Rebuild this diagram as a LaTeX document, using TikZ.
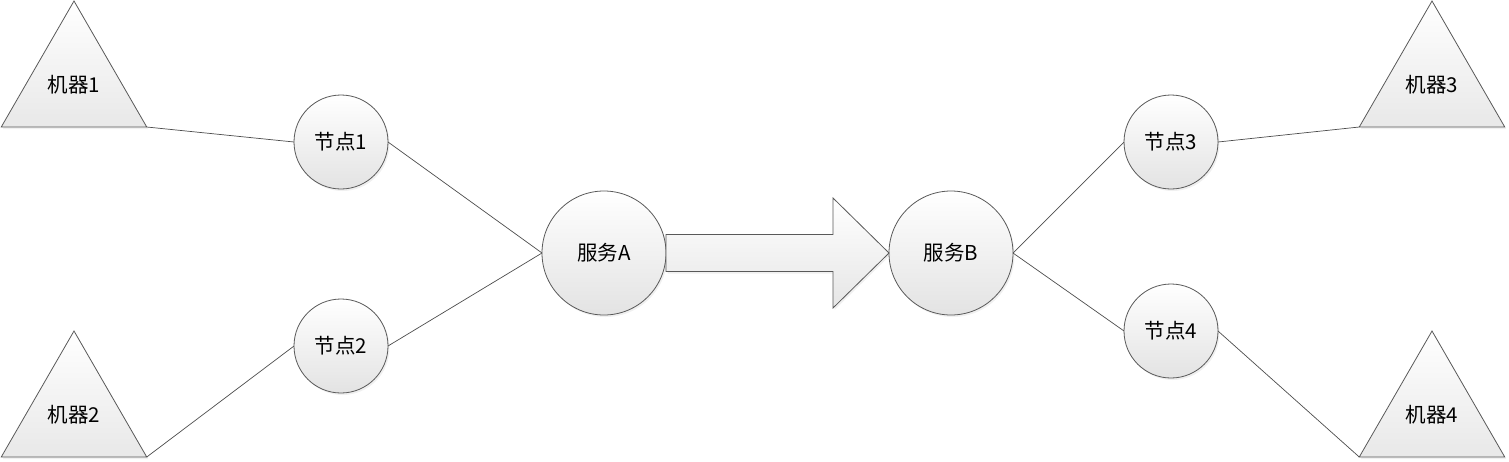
\documentclass[tikz,border=0pt]{standalone}
\usepackage{fontspec}
\setmainfont{Carlito}
\newfontfamily\cjk{Noto Sans CJK SC}
\usepackage{tikz}
\usetikzlibrary{shapes.geometric,calc,shadows}

\tikzset{
  linecol/.style={draw=black!65, line width=0.8pt},
  shadowed/.style={drop shadow={shadow xshift=1.5pt, shadow yshift=-2pt, opacity=0.12}},
  machine/.style={regular polygon, regular polygon sides=3, minimum size=168pt,
                  inner sep=0pt, outer sep=0pt, linecol, shadowed,
                  top color=white, bottom color=black!9},
  joint/.style={circle, minimum size=94pt, inner sep=0pt, outer sep=0pt,
                linecol, shadowed, top color=white, bottom color=black!11},
  service/.style={joint, minimum size=124pt},
  link/.style={draw=black!70, line width=0.7pt},
  bigarrow/.style={linecol, shadowed, top color=white, bottom color=black!10}
}

\begin{document}
\begin{tikzpicture}[x=1pt, y=-1pt, font=\fontsize{20.5}{24}\selectfont]
      \useasboundingbox (0, 0) rectangle (1509, 461);
      % machines
      \node (m1) [machine] at (74, 85)   {\cjk{机器}1};
      \node (m2) [machine] at (74, 415)  {\cjk{机器}2};
      \node (m3) [machine] at (1432, 85)  {\cjk{机器}3};
      \node (m4) [machine] at (1432, 415) {\cjk{机器}4};
      % nodes
      \node (n1) [joint] at (341, 142)  {\cjk{节点}1};
      \node (n2) [joint] at (341, 346)  {\cjk{节点}2};
      \node (n3) [joint] at (1171, 142) {\cjk{节点}3};
      \node (n4) [joint] at (1171, 331) {\cjk{节点}4};
      % services
      \node (sa) [service] at (604, 253) {\cjk{服务}A};
      \node (sb) [service] at (951, 253) {\cjk{服务}B};

      \draw[link] (m1.corner 3) -- (n1.west)
                  (m2.corner 3) -- (n2.west)
                  (n1.east) -- (sa.west)
                  (n2.east) -- (sa.west)
                  (sb.east) -- (n3.west)
                  (sb.east) -- (n4.west)
                  (n3.east) -- (m3.corner 2)
                  (n4.east) -- (m4.corner 2);

      \draw[bigarrow] ($(sa.east)+(0,-18.5)$) -- ($(sb.west)+(-56,-18.5)$)
                      -- ($(sb.west)+(-56,-55)$) -- (sb.west)
                      -- ($(sb.west)+(-56,55)$) -- ($(sb.west)+(-56,18.5)$)
                      -- ($(sa.east)+(0,18.5)$) -- cycle;
\end{tikzpicture}
\end{document}
